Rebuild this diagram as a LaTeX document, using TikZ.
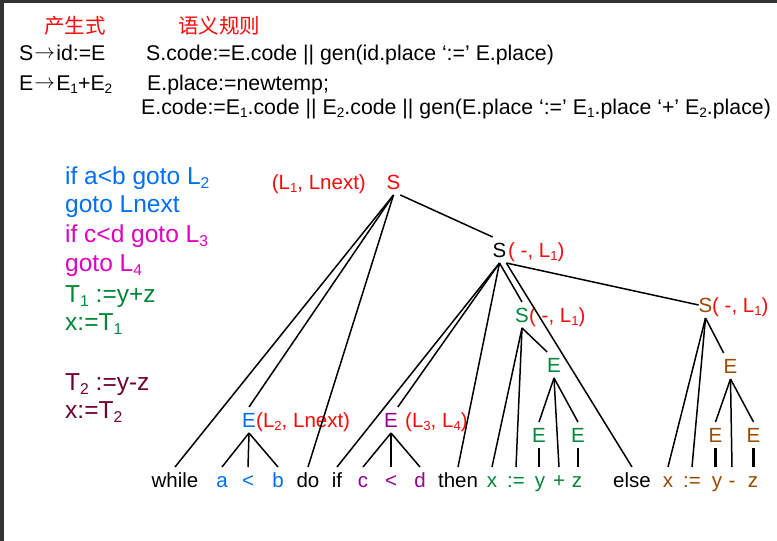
\documentclass[tikz,border=0pt]{standalone}
\usepackage{fontspec}
\setmainfont{Liberation Sans}
\newfontfamily\cjk{Noto Sans CJK SC}
\definecolor{lred}{RGB}{250,10,10}
\definecolor{cblue}{RGB}{0,112,240}
\definecolor{cmag}{RGB}{224,0,192}
\definecolor{cgreen}{RGB}{0,136,56}
\definecolor{cmar}{RGB}{112,0,48}
\definecolor{cpurp}{RGB}{150,0,150}
\definecolor{cbrown}{RGB}{153,76,0}
\definecolor{frame}{RGB}{51,51,51}
\makeatletter
\newcommand\subs[1]{\raisebox{-0.18em}{\fontsize{\fpeval{0.64*\f@size}}{1}\selectfont #1}}
\makeatother
\newcommand\arr{\kern0.05em\raisebox{0.08em}{$\rightarrow$}\kern0.05em}
\begin{document}
\begin{tikzpicture}[x=1pt,y=-1pt,
  hdr/.style={anchor=base west, inner sep=0pt, font=\fontsize{21.3}{25}\selectfont},
  code/.style={anchor=base west, inner sep=0pt, font=\fontsize{24.5}{28}\selectfont},
  tn/.style={anchor=base, inner sep=0pt, outer xsep=0pt, outer ysep=6pt, text height=14pt, text depth=0pt, font=\fontsize{20.5}{24}\selectfont},
  lbl/.style={anchor=base west, inner sep=0pt, text=lred, font=\fontsize{20.5}{24}\selectfont},
  br/.style={line width=1.5pt},
  vbr/.style={line width=2.2pt}]
\useasboundingbox (0,0) rectangle (777,541);
\fill[white] (0,0) rectangle (777,541);
\fill[frame] (0,0) rectangle (777,3);
\fill[frame] (0,0) rectangle (4,541);

% header
\node[hdr,text=lred,font=\cjk\fontsize{20.5}{24}\selectfont] (h1) at (44,33) {产生式};
\node[hdr,text=lred,font=\cjk\fontsize{20.5}{24}\selectfont] (h2) at (178,33) {语义规则};
\node[hdr] (p1) at (19,60) {S\arr id:=E};
\node[hdr] (r1) at (146,60) {S.code:=E.code || gen(id.place ‘:=’ E.place)};
\node[hdr] (p2) at (19,90) {E\arr E\subs{1}+E\subs{2}};
\node[hdr] (r2) at (147,90) {E.place:=newtemp;};
\node[hdr] (r3) at (141,114) {E.code:=E\subs{1}.code || E\subs{2}.code || gen(E.place ‘:=’ E\subs{1}.place ‘+’ E\subs{2}.place)};

% code
\node[code,text=cblue] (c1) at (65,184) {if a<b goto L\subs{2}};
\node[code,text=cblue] (c2) at (65,212) {goto Lnext};
\node[code,text=cmag] (c3) at (65,242) {if c<d goto L\subs{3}};
\node[code,text=cmag] (c4) at (65,271) {goto L\subs{4}};
\node[code,text=cgreen] (c5) at (65,302) {T\subs{1} :=y+z};
\node[code,text=cgreen] (c6) at (65,330) {x:=T\subs{1}};
\node[code,text=cmar] (c7) at (65,390) {T\subs{2} :=y-z};
\node[code,text=cmar] (c8) at (65,418) {x:=T\subs{2}};

% inner tree nodes
\node[tn,text=lred] (S0) at (393.5,189) {S};
\node[lbl,anchor=base east] (S0l) at (366,189) {(L\subs{1}, Lnext)};
\node[tn] (S1) at (499.5,257) {S};
\node[lbl] (S1l) at (508,257) {( -, L\subs{1})};
\node[tn,text=cgreen] (S2) at (522,322) {S};
\node[lbl] (S2l) at (529,322) {( -, L\subs{1})};
\node[tn,text=cbrown] (S3) at (705.5,312) {S};
\node[lbl] (S3l) at (712,312) {( -, L\subs{1})};
\node[tn,text=cblue] (E1) at (249,427) {E};
\node[lbl] (E1l) at (256,427) {(L\subs{2}, Lnext)};
\node[tn,text=cpurp] (E2) at (391,427) {E};
\node[lbl] (E2l) at (405,427) {(L\subs{3}, L\subs{4})};
\node[tn,text=cgreen] (E3) at (554,372) {E};
\node[tn,text=cgreen] (E3a) at (539,442) {E};
\node[tn,text=cgreen] (E3b) at (578,442) {E};
\node[tn,text=cbrown] (E4) at (730.5,373) {E};
\node[tn,text=cbrown] (E4a) at (715.5,442) {E};
\node[tn,text=cbrown] (E4b) at (753.5,442) {E};

% leaves
\node[tn] (while) at (175,487) {while};
\node[tn,text=cblue] (a) at (222,487) {a};
\node[tn,text=cblue] (lt1) at (248,487) {<};
\node[tn,text=cblue] (b) at (278,487) {b};
\node[tn] (do) at (308,487) {do};
\node[tn] (if) at (337,487) {if};
\node[tn,text=cpurp] (c) at (363,487) {c};
\node[tn,text=cpurp] (lt2) at (391,487) {<};
\node[tn,text=cpurp] (d) at (420,487) {d};
\node[tn] (then) at (458,487) {then};
\node[tn,text=cgreen] (x1) at (492,487) {x};
\node[tn,text=cgreen] (as1) at (516,487) {:=};
\node[tn,text=cgreen] (y1) at (540,487) {y};
\node[tn,text=cgreen] (plus) at (559,487) {+};
\node[tn,text=cgreen] (z1) at (577,487) {z};
\node[tn] (else) at (632,487) {else};
\node[tn,text=cbrown] (x2) at (668,487) {x};
\node[tn,text=cbrown] (as2) at (692,487) {:=};
\node[tn,text=cbrown] (y2) at (717,487) {y};
\node[tn,text=cbrown] (minus) at (732,487) {-};
\node[tn,text=cbrown] (z2) at (753,487) {z};

% edges
\draw[br] (S0.south) -- (while.north);
\draw[br] (S0.south) -- (E1.north);
\draw[br] (S0.south) -- (do.north);
\draw[br] (S0.south east) -- (S1.north west);
\draw[br] (S1.south) -- (if.north);
\draw[br] (S1.south) -- (E2.north east);
\draw[br] (S1.south) -- (then.north);
\draw[br] (S1.south) -- (S2.north);
\draw[br] (S1.south east) -- (else.north);
\draw[br] (S1.south east) -- (S3.west);
\draw[br] (E1.south) -- (a.north);
\draw[br] (E1.south) -- (lt1.north);
\draw[br] (E1.south) -- (b.north);
\draw[br] (E2.south) -- (c.north);
\draw[br] (E2.south) -- (lt2.north);
\draw[br] (E2.south) -- (d.north);
\draw[br] (S2.south) -- (x1.north);
\draw[br] (S2.south) -- (as1.north);
\draw[br] (S2.south) -- (E3.north west);
\draw[br] (E3.south) -- (E3a.north);
\draw[br] (E3.south) -- (plus.north);
\draw[br] (E3.south) -- (E3b.north);
\draw[vbr] (E3a.south) -- (E3a.south |- y1.north);
\draw[vbr] (E3b.south) -- (E3b.south |- z1.north);
\draw[br] (S3.south) -- (x2.north);
\draw[br] (S3.south) -- (as2.north);
\draw[br] (S3.south) -- (E4.north west);
\draw[br] (E4.south) -- (E4a.north);
\draw[br] (E4.south) -- (minus.north);
\draw[br] (E4.south) -- (E4b.north);
\draw[vbr] (E4a.south) -- (E4a.south |- y2.north);
\draw[vbr] (E4b.south) -- (E4b.south |- z2.north);
\end{tikzpicture}
\end{document}
